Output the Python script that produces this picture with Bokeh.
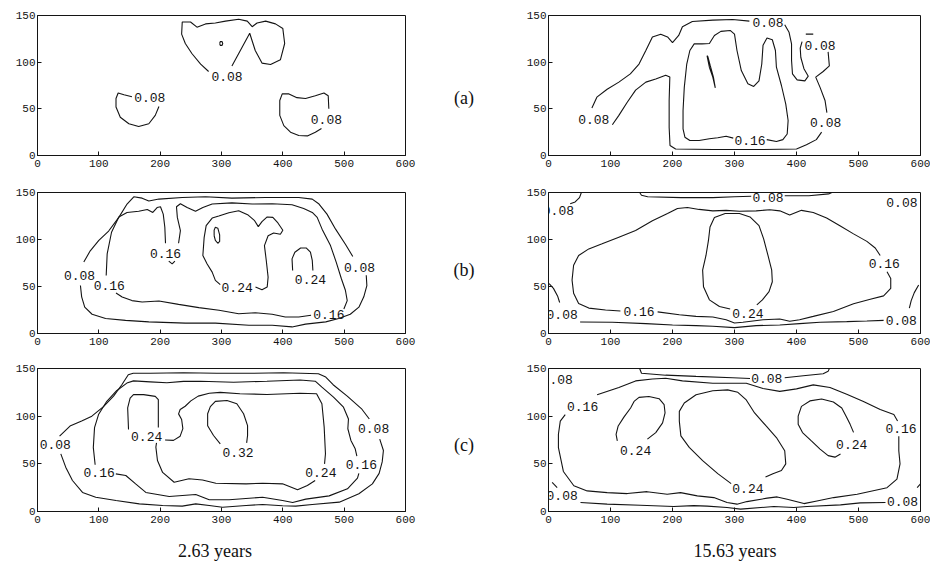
from bokeh.plotting import figure
from bokeh.models import Range1d, FixedTicker, Div
from bokeh.layouts import row, column
from bokeh.core.properties import value
from bokeh.embed import file_html
from bokeh.resources import INLINE

# ---------------- data ----------------
X_TICKS = [0, 100, 200, 300, 400, 500, 600]
Y_TICKS = [0, 50, 100, 150]
ROW_LABELS = ["(a)", "(b)", "(c)"]
COLUMN_TITLES = ["2.63 years", "15.63 years"]

# (a) 2.63 years
A_LEFT_LINES = [
    [(317, 96), (346, 131), (355, 112.5), (366, 99), (380, 97.5), (396, 102.5), (403, 120), (400, 136), (388, 141),
     (372, 144), (358, 142), (350, 138), (342, 144), (328, 146), (306.5, 144), (290, 142), (274, 141), (260, 137.5),
     (249.5, 143), (236, 143), (235, 130), (241, 120), (252, 109), (266, 98), (279, 90)],
    [(297, 120), (298, 122), (301, 122), (302, 120), (301, 118), (298, 118), (297, 120)],
    [(154, 63), (141, 65), (131.5, 67), (128, 61), (128, 52), (135, 41), (149, 34), (165, 31), (181.5, 34), (192, 43),
     (198, 52.5)],
    [(463, 29), (453, 25), (440, 21), (426, 21.5), (412.5, 25), (401.6, 32), (395, 43), (395, 59), (399, 66), (410, 66),
     (423, 62), (437, 61), (453, 64), (467, 67), (474, 64), (475, 50)],
]
A_LEFT_LABEL_X = [309, 183, 471]
A_LEFT_LABEL_Y = [85, 62, 39]
A_LEFT_LABEL_TEXT = ["0.08", "0.08", "0.08"]

# (a) 15.63 years
A_RIGHT_LINES = [
    [(70, 51), (78, 62.5), (94.6, 71), (113.5, 78.6), (132, 87.5), (146, 98), (157, 112.5), (167.6, 127), (181, 130),
     (192, 127), (200, 121), (210, 128.6), (216, 138), (232, 143.6), (265, 145), (297, 145.7), (324, 144)],
    [(381, 140), (388, 132), (392, 119.6), (392, 102), (393.5, 87.5), (401, 81), (413.5, 80), (419, 85), (412, 93),
     (407, 105), (406, 115), (409, 122)],
    [(451, 111), (453, 96), (443, 90), (431, 84), (438, 73), (446, 59), (449, 46)],
    [(440.5, 25), (432, 17), (416, 11.4), (400, 7), (346, 6.4), (265, 6.4), (205, 7), (196, 10.7), (194.6, 30),
     (194.6, 59), (195.7, 84), (189, 86), (173, 82), (157, 78.6), (140.5, 70), (127, 57), (113.5, 43), (103, 33)],
    [(298, 18.6), (286.5, 20.7), (273, 19), (259.5, 18), (243, 16), (228, 16), (220, 19.6), (217, 28.6), (217, 48),
     (219, 73), (223, 98), (228, 112.5), (235, 119.6), (247.6, 119.6), (259.5, 120), (267.6, 128.6), (278, 133),
     (293, 134), (300, 130), (304, 112.5), (311, 91), (321.6, 77), (331, 74), (339.5, 80), (344, 98), (346, 118),
     (352.4, 126), (361, 124), (366, 112.5), (367.6, 94.6), (375.7, 75), (382.7, 55), (386.5, 37.5), (385, 23),
     (378, 17), (367.6, 15), (352, 17)],
    [(255.7, 107), (259.5, 94.6), (265, 84), (269, 72.5), (266, 84), (261, 96), (257, 106), (255.7, 107)],
    [(415, 130), (427, 130)],
]
A_RIGHT_LABEL_X = [354, 438, 447, 73, 325]
A_RIGHT_LABEL_Y = [143, 118, 35, 39, 16]
A_RIGHT_LABEL_TEXT = ["0.08", "0.08", "0.08", "0.08", "0.16"]

# (b) 2.63 years
B_LEFT_LINES = [
    [(75.5, 76), (86, 88), (100, 99), (116, 109), (132.6, 123.5), (146, 137.7), (157, 145.4), (170.6, 144),
     (181.5, 141), (198, 143), (236, 144.7), (274, 145.4), (317, 144), (372, 144.7), (426, 144.7), (448, 143),
     (459, 137.7), (472, 127), (486, 111), (502, 95), (514, 82)],
    [(536, 62), (537, 51), (532, 39), (524, 28), (510, 20.5), (491, 16), (470, 12.4), (437, 10), (415, 7),
     (382.6, 8.8), (344.6, 8.8), (290, 11), (241, 11), (181.5, 12.4), (143.5, 14), (111, 16), (89, 20.5), (77, 28),
     (72, 39), (70, 51)],
    [(112, 61.8), (113.6, 84.7), (120.7, 107.7), (132.6, 124), (146, 128.8), (165, 130), (179, 132), (188, 128.8),
     (195, 134), (200.5, 134.8), (205, 127), (207.6, 113), (208.7, 96)],
    [(214, 77), (219.6, 74), (224, 77)],
    [(230, 96), (233, 109.4), (228, 123.5), (226.6, 134.8), (233, 138), (244, 134), (257.6, 130), (269.6, 134),
     (284.8, 137.7), (317, 139), (350, 137.7), (382.6, 138), (415, 137), (434, 133), (448, 128.8), (456, 123.5),
     (464, 111), (477.7, 93.5), (487, 76), (495.6, 58), (502, 46), (505, 35), (499.5, 26)],
    [(446, 19.4), (426, 17.6), (404, 17.6), (382.6, 20.5), (355, 22), (328, 21), (296, 24.7), (263, 27.5), (230, 31),
     (198, 34.6), (170.6, 33.5), (154, 35), (138, 38.8), (128, 43)],
    [(355.4, 49.4), (366, 46.6), (374.5, 49.4), (376, 60), (373, 77.7), (370, 93.5), (376, 104), (385, 107),
     (396, 105.6), (400, 109.8), (392, 117.6), (383.7, 123.5), (374.5, 124), (366, 119), (360, 113.7), (354, 120),
     (343.5, 126), (328, 130.6), (312, 128.5), (295.6, 125), (284.8, 122.8), (275, 114.7), (271.7, 102), (269.6, 83),
     (276.6, 74), (284.8, 65.3), (290, 56.5), (298, 52)],
    [(288, 104), (288, 110), (290, 113), (294, 112), (297, 105), (297, 98), (294, 96), (290, 99), (288, 104)],
    [(416, 67), (415, 79.4), (419.6, 86.5), (429, 91), (438, 91), (445, 86.5), (448, 77.7), (449, 67)],
]
B_LEFT_LABEL_X = [525, 68.5, 208.7, 475, 117, 325.5, 445]
B_LEFT_LABEL_Y = [70.6, 61.8, 84.7, 20.5, 51, 48.7, 57]
B_LEFT_LABEL_TEXT = ["0.08", "0.08", "0.16", "0.16", "0.16", "0.24", "0.24"]

# (b) 15.63 years
B_RIGHT_LINES = [
    [(147, 150), (150, 147), (160, 145.5), (214, 144.5), (265, 144.5), (300, 145.5), (327, 146)],
    [(381, 146.5), (420, 146.5), (452, 148.5), (457, 150)],
    [(53, 150), (50, 144.6), (43, 140), (35, 138)],
    [(51, 12.3), (103, 12), (157, 10.5), (200, 9), (238, 8.4), (265, 7.7), (300, 6.3), (335, 8.4), (373, 9),
     (405, 10.5), (438, 12), (481, 12.6), (513.5, 13.3), (540.5, 14)],
    [(1, 53), (8, 48), (14.6, 40), (18, 33)],
    [(597, 51.6), (590, 43.5), (585, 35), (582, 27)],
    [(176, 23), (211, 20), (238, 18.2), (265, 17.5), (286.5, 14.7), (300, 11.2), (313.5, 12), (346, 14.7),
     (373, 15.4), (389, 13), (405, 14.7), (427, 18.2), (459.5, 23.5), (492, 31.6), (519, 36.5), (540.5, 40),
     (552, 48), (552, 58.6), (546, 65.6)],
    [(535, 83), (527, 91), (513.5, 98), (492, 106), (470, 114.7), (448.6, 122.8), (427, 128.8), (408, 131),
     (389, 126), (373, 130.5), (357, 131.6), (335, 130.5), (308, 130), (286.5, 131), (265, 130.5), (243, 132),
     (224, 134), (208, 133), (192, 127.7), (167.6, 120), (140.5, 109.5), (113.5, 102.5), (86.5, 95.4), (65, 90),
     (48.6, 83), (40.5, 72.6), (38, 56.8), (40.5, 42.8), (48.6, 32), (65, 27), (92, 25), (116, 24)],
    [(293, 26), (275.7, 28.8), (259.5, 35.8), (250, 49.8), (248.6, 67.4), (254, 83), (258, 99), (260.5, 113.3),
     (267.6, 123.5), (285, 127.7), (308, 127.7), (325, 124), (339.5, 114.7), (347, 100.7), (354, 83), (360, 67.4),
     (361, 55), (355.7, 44.6), (345, 35.8), (336, 30.5)],
]
B_RIGHT_LABEL_X = [354, 16, 570, 22, 569, 146, 541.6, 321.6]
B_RIGHT_LABEL_Y = [145, 131, 139, 20.7, 14, 23.5, 74.4, 21.8]
B_RIGHT_LABEL_TEXT = ["0.08", "0.08", "0.08", "0.08", "0.08", "0.16", "0.16", "0.24"]

# (c) 2.63 years
C_LEFT_LINES = [
    [(36, 79), (53, 89.6), (72, 95), (88.6, 100), (107.6, 110), (124, 121), (137.5, 133), (148, 143.4), (156, 145),
     (184, 145), (238, 145.5), (292, 145), (347, 145), (401, 145.5), (458, 144.5), (470, 141), (482, 133), (505, 121),
     (528, 108), (541, 97)],
    [(558, 76), (564, 64), (562, 52), (557, 40), (546, 29), (524, 18.6), (492, 9.8), (448, 7.3), (421, 5.6),
     (399.5, 6), (367, 7.3), (340, 6.3), (301.6, 4.5), (280, 6.3), (258, 8), (236, 5.6), (204, 6.3), (166, 8),
     (128, 11.5), (95, 15), (73.4, 20), (57, 32.5), (46, 46.5), (38, 60.5)],
    [(94, 49), (91, 67), (93, 88), (99.5, 101.7), (113, 115.6), (129, 126.7), (145.7, 134.7), (156.5, 137),
     (183.7, 136), (211, 135), (238, 136.5), (265.5, 136.7), (319.7, 135.5), (374, 136.7), (428, 138), (452.8, 136.7),
     (463.7, 130.4), (482.6, 120), (498.9, 109.4), (507, 97), (506, 86.8), (511, 74.5), (518, 65.8), (520.7, 58)],
    [(524, 40), (521.7, 35), (505.4, 23.8), (475.5, 16.4), (437.5, 13), (416, 9.4), (399.5, 11.5), (367, 15),
     (312.5, 12.3), (280, 12.3), (258, 17.8), (214.7, 15.7), (176.6, 20), (160, 29), (144, 37.8), (127.7, 39.5)],
    [(197, 88), (197, 117.4), (192, 120.8), (173, 122.6), (156.5, 122.6), (151, 119), (147, 108.7), (148.4, 86)],
    [(208, 75), (221.7, 74.6), (232.6, 79), (237, 87), (235, 96.5), (230, 102.4), (232.6, 107), (240.8, 110.4),
     (250, 116), (262, 121), (280, 124), (298, 125), (330, 123.5), (374, 122.8), (428, 124), (455, 123.5),
     (463.7, 113), (467.4, 88.5), (469.5, 60.5), (468, 50)],
    [(452.7, 32.5), (440, 27.3), (424, 22.8), (399.5, 29), (367, 29.7), (340, 29), (290.8, 29.7), (269, 33),
     (247, 34.3), (222.8, 30.7), (204, 41), (195.6, 53.5), (193, 67.5), (194, 72)],
    [(341, 72), (342.5, 79.7), (342.5, 90), (336, 102.5), (325, 113), (309, 116.5), (290, 115.5), (281.8, 110),
     (277.4, 102.5), (277.4, 90), (287, 79.7), (298, 71)],
]
C_LEFT_LABEL_X = [29, 548, 100.5, 528, 178, 462, 327]
C_LEFT_LABEL_Y = [70, 87, 41, 49, 79, 41, 62]
C_LEFT_LABEL_TEXT = ["0.08", "0.08", "0.16", "0.16", "0.24", "0.24", "0.32"]

# (c) 15.63 years
C_RIGHT_LINES = [
    [(147, 150), (150, 145), (189, 143), (238, 141.7), (297, 140.3), (325, 139.5)],
    [(381, 140.3), (411, 142.4), (443, 144.5), (451, 147), (453, 150)],
    [(78.4, 122.4), (113.5, 130), (140.5, 137), (167.6, 139), (189, 139.7), (216, 137), (265, 134.5), (319, 134.5),
     (346, 129), (373, 126), (400, 128.6), (427, 132.8), (454, 130), (481, 123), (508, 115.5), (535, 107),
     (557, 101.7), (563, 95)],
    [(565, 79), (565, 63.8), (567, 50), (562, 34), (546, 25), (497.8, 18.1), (460, 14.6), (433, 11.1), (412, 8.3),
     (385, 12.9), (368.8, 15.3), (352.7, 14), (320, 10.4), (304, 7.7), (288, 9.4), (266.7, 14.6), (240, 16.4),
     (213, 19.8), (191.4, 18.1), (159, 20.8), (127, 18.8), (94.6, 19.8), (62.4, 21.6), (40.9, 27), (24, 42),
     (16, 67), (16, 81), (19, 94.8), (27, 101.7)],
    [(51.6, 9.4), (94.6, 7.7), (148, 6.6), (202, 5.2), (234, 6.2), (256, 5.6), (288, 4.2), (309.7, 2.5),
     (363.4, 5.2), (395.7, 4.2), (417, 5.2), (471, 6.9), (503, 9), (543.5, 9.4)],
    [(5.9, 30.5), (14, 25)],
    [(594.6, 25), (600, 29)],
    [(111, 74), (109, 81), (112.4, 89.7), (121.6, 99), (132.4, 108.6), (138, 115.5), (146, 119.7), (162, 120.7),
     (178.4, 118.3), (186.5, 112), (188, 103.4), (184, 93), (173, 82.8), (159.5, 75.9)],
    [(294.6, 29.3), (273, 39.7), (248.6, 53.4), (227, 67.2), (213.5, 79.3), (211, 94.8), (211, 105), (219, 113.8),
     (238, 122.4), (265, 126.6), (289, 127.6), (305.4, 125), (319, 117), (332.4, 103.4), (351, 89.7), (367.6, 77.6),
     (381, 63.8), (382.7, 50), (375.7, 43), (362, 39.7), (350, 36.2)],
    [(492, 83), (486.5, 91.4), (480, 100), (473, 108.6), (459.5, 114.8), (440.5, 118), (421.6, 116), (408, 110.3),
     (402.7, 100), (402.7, 91.4), (409.7, 82.8), (424, 74), (438, 65.5), (451, 58.6), (462, 57), (471, 60.3)],
]
C_RIGHT_LABEL_X = [352, 14, 22, 571, 55, 568.6, 140.5, 321.6, 489]
C_RIGHT_LABEL_Y = [139, 138, 17, 10, 110, 87, 63.8, 24, 70.7]
C_RIGHT_LABEL_TEXT = ["0.08", "0.08", "0.08", "0.08", "0.16", "0.16", "0.24", "0.24", "0.24"]

# ---------------- drawing ----------------
INK = "#141414"


def panel(lines, lx, ly, lt, width, height, bl, br, bt, bb):
    p = figure(width=width, height=height, x_range=Range1d(0, 600), y_range=Range1d(0, 150),
               min_border_left=bl, min_border_right=br, min_border_top=bt, min_border_bottom=bb,
               toolbar_location=None, output_backend="svg", background_fill_color="white",
               border_fill_color="white")
    p.xgrid.visible = False
    p.ygrid.visible = False
    p.outline_line_color = INK
    p.outline_line_width = 1
    p.xaxis.ticker = FixedTicker(ticks=X_TICKS)
    p.yaxis.ticker = FixedTicker(ticks=Y_TICKS)
    for ax in (p.xaxis, p.yaxis):
        ax.axis_line_color = INK
        ax.major_tick_in = 4
        ax.major_tick_out = 0
        ax.minor_tick_line_color = None
        ax.major_tick_line_color = INK
        ax.major_label_text_font = "Liberation Mono"
        ax.major_label_text_font_size = "11px"
        ax.major_label_text_color = INK
    p.xaxis.major_label_standoff = 4
    p.yaxis.major_label_standoff = 2
    xs = [[pt[0] for pt in seg] for seg in lines]
    ys = [[pt[1] for pt in seg] for seg in lines]
    p.multi_line(xs=xs, ys=ys, line_color=INK, line_width=1.1)
    p.text(x=lx, y=ly, text=lt, text_font=value("Liberation Mono"), text_font_size=value("13px"),
           text_color=INK, text_align="center", text_baseline="middle")
    return p


aL = panel(A_LEFT_LINES, A_LEFT_LABEL_X, A_LEFT_LABEL_Y, A_LEFT_LABEL_TEXT, 420, 177, 37, 15, 15, 22)
bL = panel(B_LEFT_LINES, B_LEFT_LABEL_X, B_LEFT_LABEL_Y, B_LEFT_LABEL_TEXT, 420, 175, 37, 15, 15, 19)
cL = panel(C_LEFT_LINES, C_LEFT_LABEL_X, C_LEFT_LABEL_Y, C_LEFT_LABEL_TEXT, 420, 179, 37, 15, 16, 20)
aR = panel(A_RIGHT_LINES, A_RIGHT_LABEL_X, A_RIGHT_LABEL_Y, A_RIGHT_LABEL_TEXT, 422, 177, 40, 10, 15, 22)
bR = panel(B_RIGHT_LINES, B_RIGHT_LABEL_X, B_RIGHT_LABEL_Y, B_RIGHT_LABEL_TEXT, 422, 175, 40, 10, 15, 19)
cR = panel(C_RIGHT_LINES, C_RIGHT_LABEL_X, C_RIGHT_LABEL_Y, C_RIGHT_LABEL_TEXT, 422, 179, 40, 10, 16, 20)

serif = "font-family:'Liberation Serif','Times New Roman',serif;font-size:18px;color:#111;line-height:20px;"
mid_tops = [88, 260, 435]
mid_html = "<div style=\"position:relative;width:88px;height:531px;\">" + "".join(
    f"<span style=\"position:absolute;left:0;top:{t}px;width:88px;text-align:center;{serif}\">{lab}</span>"
    for lab, t in zip(ROW_LABELS, mid_tops)) + "</div>"
mid = Div(text=mid_html, width=88, height=531, margin=0)

cap_lefts = [0, 520]
cap_html = "<div style=\"position:relative;width:930px;height:40px;\">" + "".join(
    f"<span style=\"position:absolute;left:{l}px;top:10px;width:430px;text-align:center;{serif}\">{t}</span>"
    for t, l in zip(COLUMN_TITLES, cap_lefts)) + "</div>"
cap = Div(text=cap_html, width=930, height=40, margin=0)

layout = column(row(column(aL, bL, cL), mid, column(aR, bR, cR)), cap)

open("out.html", "w").write(file_html(layout, INLINE))
